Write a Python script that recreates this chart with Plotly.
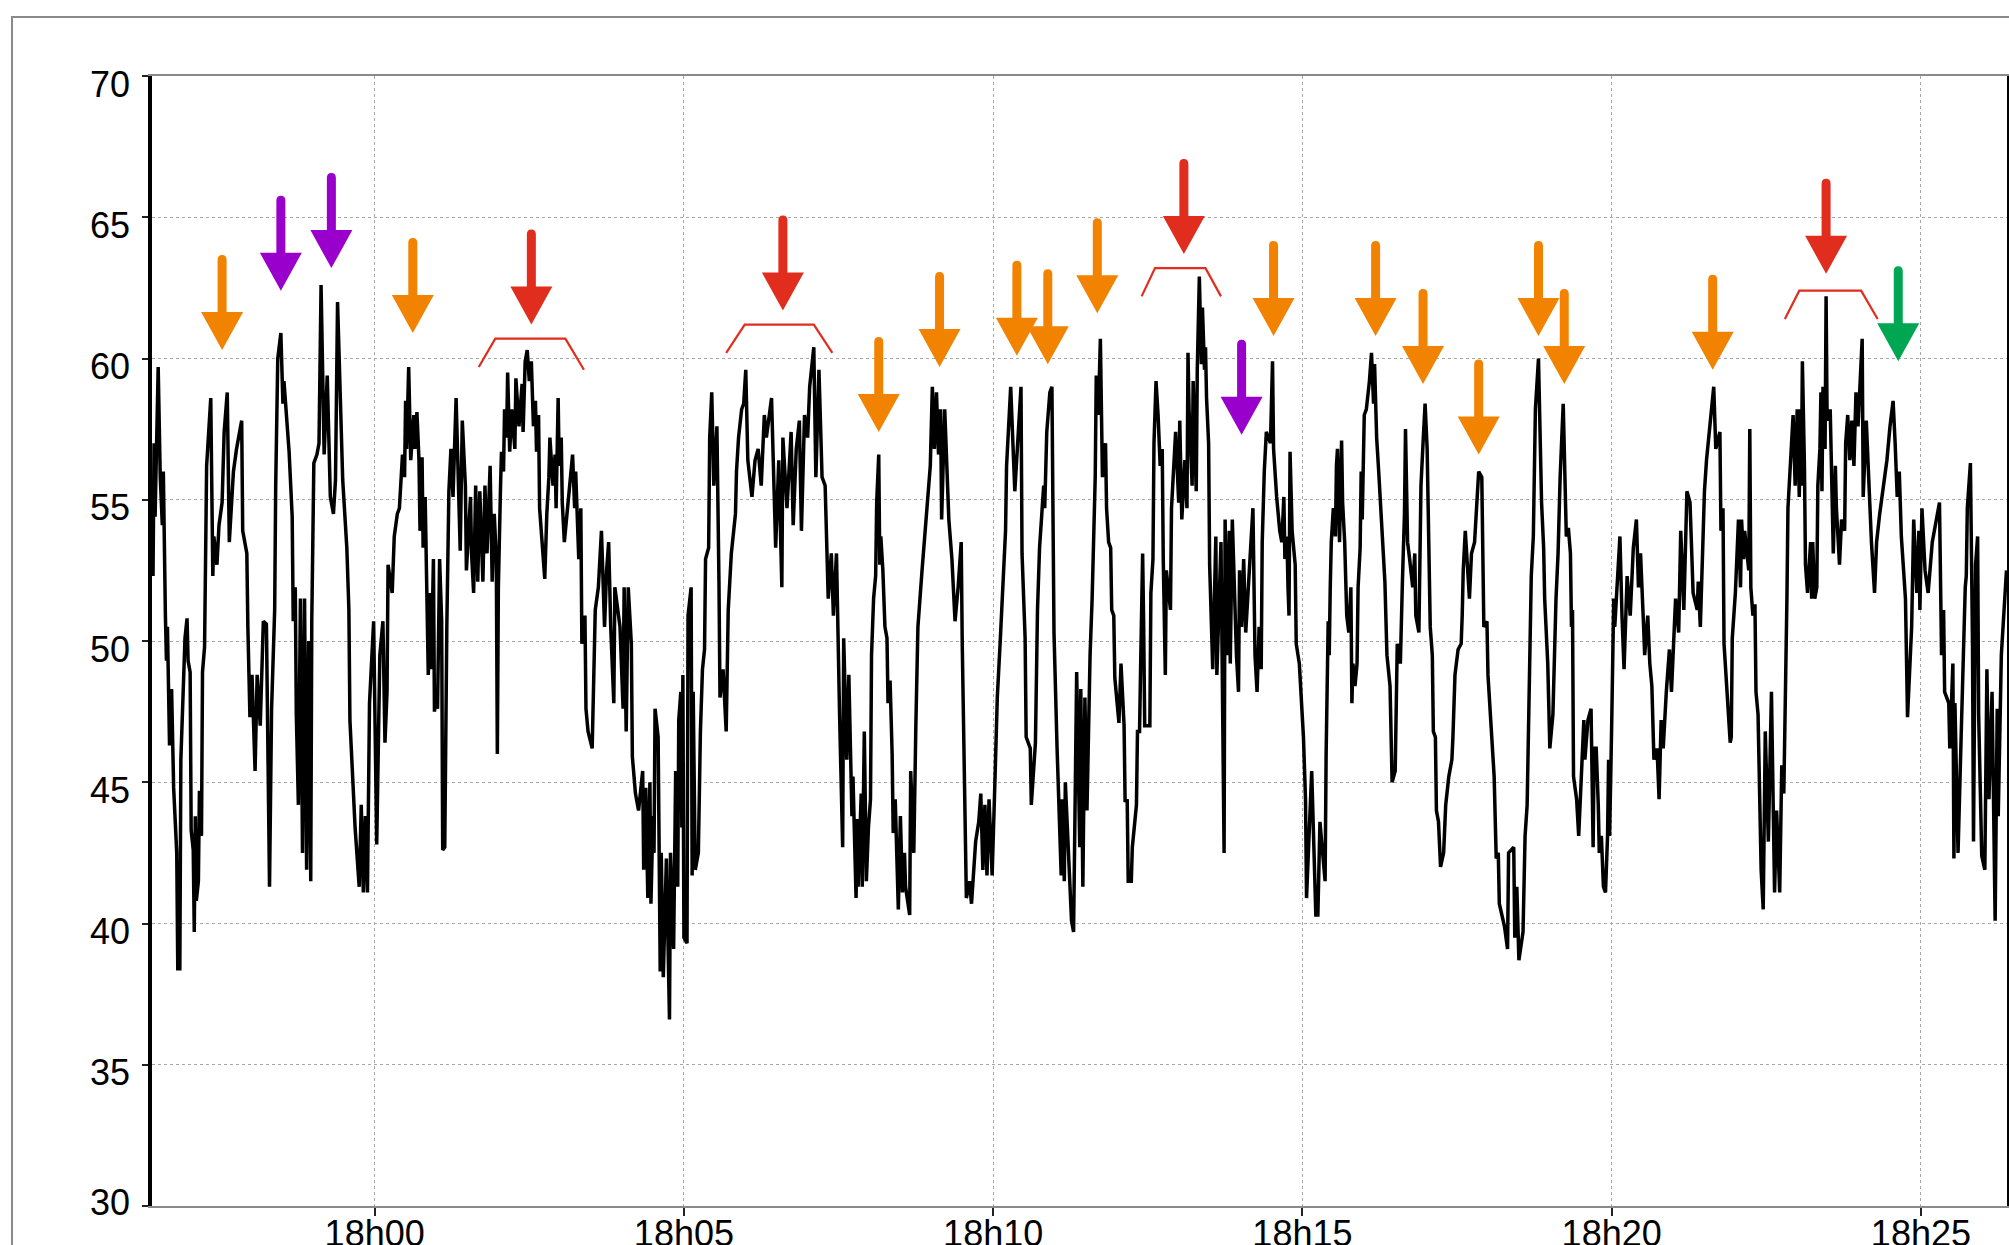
import pandas as pd
import plotly.graph_objects as go

BASE = pd.Timestamp("2024-01-01 18:00:00")

# readings: (seconds relative to 18h00, level)
seg_1756 = [(-215,52.3),(-214,57.0),(-213,54.4),(-212,56.8),(-210,59.7),(-208,55.8),(-206,54.1),(-205,56.0),(-204,52.2),(-203,50.9),(-202,49.3),(-201,50.5),(-199,46.3),(-197,48.3),(-195,44.8),(-192,42.5),(-191,38.4),(-189,38.4),(-188,45.8),(-187,47.0),(-186,48.4),(-184,50.1),(-182,50.8),(-181,49.3),(-179,48.9),(-178,43.3),(-176,42.6),(-175,39.7),(-174,43.8),(-173,40.8),(-171,41.5),(-170,44.7),(-168,43.1),(-167,48.9),(-165,49.8),(-164,53.2),(-163,56.2),(-159,58.6),(-157,52.3),(-156,53.7),(-153,52.7),(-151,54.1),(-148,54.9),(-146,57.4),(-143,58.8),(-141,53.5),(-137,56.0),(-134,56.8),(-129,57.8),(-128,53.9),(-124,53.1),(-123,50.5),(-121,47.3),(-119,48.8),(-116,45.4),(-114,48.8),(-111,47.0),(-108,50.7),(-105,50.6),(-102,41.3),(-100,47.6),(-97,51.1),(-96,55.5),(-94,60.0),(-91,60.9),(-89,58.4),(-88,59.2),(-83,56.7),(-80,54.4),(-79,50.7),(-77,51.9),(-76,47.4),(-74,44.2),(-72,51.5),(-70,42.5),(-68,51.5),(-66,41.9),(-64,50.0),(-62,41.5),(-61,50.7),(-60,54.0),(-59,56.3),(-56,56.6),(-54,57.0),(-52,62.6),(-50,59.2),(-49,56.6),(-46,59.4),(-43,55.1),(-40,54.5),(-38,55.7),(-36,62.0),(-34,59.0),(-31,55.7),(-27,53.3),(-25,51.1),(-24,47.2),(-19,43.4),(-15,41.3),(-13,44.2),(-11,41.1),(-9,43.8),(-7,41.1),(-5,47.8),(-1,50.7),(2,42.8),(5,49.5),(8,50.7)]

seg_1800 = [(10,46.4),(12,48.2),(13,52.7),(17,51.7),(19,53.7),(22,54.5),(24,54.7),(25,55.5),(27,56.6),(29,55.8),(30,58.5),(31,56.8),(33,59.7),(35,56.4),(38,58.0),(39,56.8),(41,58.1),(43,56.4),(44,53.9),(46,56.5),(47,53.3),(49,55.1),(50,52.3),(52,48.8),(54,51.7),(55,49.0),(57,52.9),(58,47.5),(60,48.2),(61,47.6),(63,52.9),(64,51.5),(65,50.7),(66,42.6),(68,42.7),(70,50.5),(72,55.3),(74,56.8),(76,55.1),(79,58.6),(81,55.3),(83,53.2),(85,57.8),(88,55.5),(89,52.5),(93,55.1),(94,53.1),(96,51.7),(98,55.5),(100,52.1),(102,55.3),(105,52.1),(107,55.5),(109,53.1),(112,56.2),(114,52.1),(116,54.5),(118,52.9),(119,46.0),(120,51.9),(122,55.3),(123,56.7),(125,56.0),(126,58.2),(128,57.2),(129,59.5),(131,56.7),(133,58.2),(136,56.8),(137,59.3),(140,57.6),(143,59.1),(144,57.4),(146,59.9),(148,60.3),(150,59.2),(152,59.9),(154,57.6),(156,58.5),(157,56.7),(159,58.0),(160,54.7),(162,53.7),(165,52.2),(167,54.5),(169,55.8),(170,57.2),(173,55.5),(175,56.6),(176,54.7),(178,58.6),(179,56.2),(181,57.2),(182,54.9),(184,53.5),(186,54.3),(190,55.8),(192,56.6),(194,54.7),(195,56.0),(198,52.9),(200,54.7),(201,49.9),(204,50.9),(205,47.6),(207,46.8),(211,46.2),(212,47.8),(214,51.1),(217,51.9),(220,53.9),(223,50.5),(225,52.5),(227,53.5),(229,50.5),(232,47.8),(233,51.9)]

seg_1804 = [(238,50.5),(241,47.6),(242,51.9),(244,46.8),(246,51.9),(249,49.9),(250,45.9),(253,44.6),(256,44.0),(260,45.4),(261,41.9),(263,44.8),(265,40.9),(267,45.0),(268,40.7),(270,43.8),(271,42.5),(272,47.6),(275,46.6),(276,41.3),(277,38.3),(278,42.5),(280,38.1),(283,42.3),(286,36.6),(287,42.5),(290,39.1),(292,45.4),(294,41.3),(295,47.2),(297,48.2),(298,43.4),(299,48.8),(300,39.5),(303,39.3),(304,50.9),(307,51.9),(308,41.7),(309,48.2),(311,41.9),(314,42.5),(316,46.8),(318,49.0),(320,49.7),(321,52.9),(324,53.3),(325,57.2),(327,58.8),(329,55.5),(332,57.6),(333,53.1),(334,52.1),(335,48.0),(338,49.0),(341,46.8),(342,48.6),(343,51.1),(346,53.1),(350,54.5),(351,56.0),(353,57.2),(356,58.2),(358,58.4),(360,59.6),(362,56.4),(366,55.1),(369,56.4),(372,56.8),(375,55.5),(378,58.0),(380,57.2),(385,58.6),(387,56.4),(389,53.3),(392,56.4),(395,51.9),(396,57.2),(400,54.7),(404,57.4),(406,54.1),(409,56.8),(412,57.8),(414,53.9),(417,58.0),(420,57.2),(422,59.0),(426,60.4),(428,55.8),(431,59.6),(434,55.8),(437,55.5),(440,51.5),(443,53.1),(445,50.9),(448,53.1),(450,50.1),(451,47.4),(454,42.7),(455,50.1),(458,45.8),(460,48.8),(463,43.8),(464,45.2)]

seg_1807 = [(467,40.9),(468,43.7),(469,41.3),(470,42.7),(472,44.6),(473,41.3),(475,46.8),(477,41.5),(479,43.4),(481,44.4),(482,49.5),(484,51.5),(486,52.3),(487,54.9),(489,56.6),(490,52.7),(491,53.7),(493,52.5),(495,50.5),(497,50.1),(498,47.8),(500,48.6),(502,46.0),(503,43.2),(505,44.4),(508,40.5),(510,43.8),(512,41.1),(514,42.5),(515,41.3),(519,40.3),(520,45.4),(523,42.5),(525,47.0),(527,50.5),(531,52.5),(534,53.9),(536,55.1),(539,56.2),(541,59.0),(543,56.8),(545,58.8),(547,56.6),(549,58.2),(550,54.3),(553,58.2),(555,56.4),(557,54.3),(560,52.9),(562,51.5),(563,50.7),(566,51.9),(569,53.5),(570,49.9),(572,45.0),(574,40.9),(577,41.5),(579,40.7),(583,42.9),(586,43.6),(588,44.6),(590,41.9),(592,44.2),(594,41.7),(596,44.4),(599,41.7),(602,45.4),(604,48.0),(607,50.1),(610,52.1),(612,53.9),(613,56.2),(617,59.0),(621,55.3),(627,59.0),(628,53.1),(631,50.1),(632,46.6),(636,46.2),(637,44.2),(641,46.4),(643,51.1),(645,53.3),(649,55.5),(650,54.7),(652,57.4),(655,58.8),(657,59.0),(658,54.7),(659,50.3),(662,46.2),(664,43.8),(666,41.7),(667,44.4),(669,41.5),(670,45.0),(676,40.1),(678,39.7),(681,48.9),(684,42.7),(685,48.3),(687,41.3),(689,48.0),(691,44.0)]

seg_1811 = [(694,49.5),(696,51.5),(698,55.3),(699,55.8),(700,59.4),(702,58.0),(704,60.7),(705,58.4),(706,55.8),(709,57.0),(710,54.7),(712,53.5),(714,53.3),(715,51.1),(717,50.9),(718,48.7),(720,47.8),(722,47.1),(724,49.2),(726,47.6),(727,47.0),(728,44.3),(730,44.4),(731,41.5),(734,41.5),(735,42.7),(739,44.2),(740,46.8),(742,46.8),(743,49.0),(745,53.1),(746,50.5),(747,47.0),(752,47.0),(753,51.7),(755,52.9),(756,57.0),(758,59.2),(760,58.0),(762,56.2),(764,56.8),(765,52.9),(767,48.8),(768,52.5),(771,51.5),(772,51.1),(773,54.7),(775,56.2),(777,57.4),(780,54.9),(781,57.8),(783,54.3),(786,56.4),(788,54.7),(789,60.2),(790,58.2),(793,55.5),(794,59.2),(797,55.3),(798,59.6),(800,62.9),(802,59.8),(803,61.8),(805,59.6),(806,60.4),(807,58.6),(809,57.0),(810,52.7),(813,49.0),(816,53.7),(817,48.8),(821,53.5),(822,49.0),(824,42.5),(825,54.3),(827,49.5),(829,53.9),(830,49.2),(832,54.3),(834,51.9),(836,49.5),(838,48.2),(839,52.5),(841,50.5),(843,52.9),(845,50.3),(848,52.0),(852,54.7),(854,49.5),(856,48.2),(858,50.5),(860,49.0),(861,53.5),(863,56.0),(865,57.4),(869,57.0),(871,59.9),(872,56.8),(875,55.1),(878,53.9),(880,53.5),(882,55.1),(883,52.9),(885,53.7),(886,51.9),(887,50.9),(888,56.7),(890,53.9),(893,52.7),(894,49.9),(897,49.2),(901,46.6),(903,44.4),(904,40.9),(909,45.4),(913,40.3),(915,40.3),(917,43.6)]

seg_1815 = [(922,41.5),(923,46.0),(925,50.7),(926,49.5),(927,51.9),(928,53.5),(930,54.7),(932,53.7),(933,56.2),(934,56.8),(936,53.5),(938,57.1),(939,54.9),(941,53.5),(943,50.9),(945,50.3),(947,51.9),(948,47.8),(949,49.2),(951,48.4),(953,49.2),(954,51.9),(956,53.3),(957,56.0),(958,54.3),(960,58.0),(962,58.2),(965,59.2),(967,60.2),(969,58.4),(970,59.8),(972,57.2),(974,56.0),(976,54.7),(978,53.3),(980,52.1),(982,49.5),(985,48.4),(987,45.0),(990,45.4),(992,49.9),(995,49.2),(997,52.1),(999,54.5),(1000,57.5),(1002,53.5),(1004,52.9),(1007,51.9),(1009,53.1),(1010,50.9),(1013,50.3),(1015,55.5),(1017,57.0),(1019,58.4),(1021,56.8),(1022,54.5),(1024,50.5),(1026,49.5),(1027,46.8),(1029,46.6),(1030,44.0),(1032,43.6),(1034,42.0),(1037,42.5),(1039,44.2),(1042,45.2),(1045,45.8),(1046,46.6),(1048,48.8),(1051,49.7),(1054,49.9),(1055,50.9),(1056,52.5),(1058,53.9),(1062,51.5),(1064,53.1),(1067,53.5),(1071,56.0),(1074,55.8),(1076,50.5),(1079,50.7),(1080,48.8),(1084,46.6),(1086,45.2),(1088,42.3),(1090,42.5),(1091,40.7),(1096,39.9),(1099,39.1),(1100,42.5),(1105,42.7),(1106,39.5),(1108,41.3),(1110,38.7),(1114,39.7),(1116,43.1),(1118,44.2),(1119,46.4),(1122,52.3),(1124,53.7),(1126,58.2),(1129,60.0),(1132,54.9),(1134,53.3),(1135,51.5),(1138,49.2),(1140,46.2),(1143,47.4),(1144,48.8),(1146,51.5),(1148,53.1),(1150,55.8),(1153,58.4)]

seg_1819 = [(1156,53.7),(1158,54.0),(1160,53.1),(1161,50.5),(1162,51.1),(1163,45.2),(1166,44.4),(1168,43.1),(1171,45.8),(1173,47.2),(1174,45.8),(1177,47.2),(1180,47.6),(1181,44.6),(1182,42.7),(1183,46.2),(1185,46.2),(1187,44.2),(1188,42.5),(1190,43.1),(1192,41.3),(1194,41.1),(1196,43.1),(1197,45.8),(1198,43.1),(1200,47.0),(1202,51.5),(1203,50.5),(1205,51.9),(1208,53.7),(1210,50.9),(1212,49.0),(1215,52.3),(1218,50.9),(1221,53.3),(1224,54.3),(1226,51.9),(1228,53.1),(1231,50.5),(1232,49.5),(1235,50.9),(1237,49.2),(1239,48.4),(1241,45.8),(1244,46.2),(1246,44.4),(1248,47.2),(1250,46.2),(1253,48.2),(1256,49.7),(1258,48.2),(1262,51.5),(1265,50.3),(1267,53.9),(1270,51.1),(1273,55.3),(1276,54.9),(1279,51.7),(1283,51.1),(1284,52.1),(1286,50.5),(1288,52.9),(1290,55.3),(1292,56.4),(1295,57.6),(1297,58.4),(1299,59.0),(1301,56.8),(1305,57.4),(1306,53.9),(1308,54.7),(1309,49.9),(1312,48.2),(1315,46.4),(1316,46.6),(1317,50.1),(1320,51.7),(1323,54.3),(1325,51.9),(1326,54.3),(1328,52.9),(1329,53.9),(1333,52.5),(1334,57.5),(1335,51.9),(1337,50.9),(1339,51.3),(1340,48.2),(1342,47.4),(1345,41.9),(1347,40.5),(1349,46.8),(1352,42.9),(1355,48.2),(1358,41.1),(1360,44.0),(1363,41.1),(1365,45.6),(1367,44.6),(1368,46.4),(1370,51.5),(1371,54.7),(1374,56.8),(1376,58.0),(1378,55.5),(1380,58.2),(1382,55.1)]

seg_1823 = [(1383,58.2),(1384,55.5),(1385,59.9),(1387,56.2),(1388,52.7),(1390,51.7),(1393,53.5),(1394,51.5),(1395,53.5),(1397,51.5),(1399,51.9),(1400,55.5),(1402,56.8),(1403,58.8),(1404,55.3),(1405,59.0),(1407,56.8),(1408,62.2),(1409,57.8),(1412,58.2),(1415,53.1),(1417,56.2),(1418,54.7),(1421,52.7),(1423,54.3),(1426,53.9),(1427,57.0),(1429,58.0),(1431,56.4),(1433,57.8),(1435,56.2),(1437,58.8),(1439,57.6),(1443,60.7),(1444,55.1),(1447,57.8),(1450,54.7),(1452,53.5),(1455,51.7),(1457,53.5),(1460,54.5),(1464,55.5),(1467,56.4),(1470,57.6),(1473,58.5),(1475,57.0),(1477,55.1),(1479,56.0),(1481,53.7),(1485,51.5),(1487,47.3),(1490,49.7),(1491,50.5),(1493,54.3),(1496,51.7),(1498,53.9),(1499,51.1),(1501,54.7),(1504,52.5),(1507,51.7),(1511,53.5),(1518,54.9),(1520,49.5),(1522,51.1),(1523,48.2),(1527,47.8),(1528,46.2),(1531,49.2),(1532,42.3),(1533,47.8),(1536,42.5),(1539,46.6),(1541,49.9),(1543,51.9),(1544,52.3),(1545,54.7),(1548,56.3),(1550,50.0),(1551,42.9),(1553,52.7),(1555,53.7),(1556,47.4),(1559,42.4),(1562,41.9),(1564,49.0),(1566,44.4),(1569,48.2),(1572,40.1),(1574,47.6),(1575,43.8),(1578,49.5),(1581,51.5),(1583,52.5)]

# arrow markers: time (s from 18h00), level at arrow tip, kind
arrow_t = [-148, -91, -42, 37, 152, 396, 489, 548, 623, 653, 701, 785, 841, 872, 971, 1017, 1071, 1129, 1154, 1298, 1408, 1478]
arrow_tip = [60.3, 62.4, 63.2, 60.9, 61.2, 61.7, 57.4, 59.7, 60.1, 59.8, 61.6, 63.7, 57.3, 60.8, 60.8, 59.1, 56.6, 60.8, 59.1, 59.6, 63.0, 59.9]
arrow_kind = ["o", "p", "p", "o", "r", "r", "o", "o", "o", "o", "o", "r", "p", "o", "o", "o", "o", "o", "o", "o", "r", "g"]
kind_color = {"o": "#F28300", "p": "#9A00CC", "r": "#E02D1E", "g": "#00A651"}

# red brackets: (time, level) corner points
bracket_1 = [(101, 59.7), (117, 60.7), (185, 60.7), (203, 59.6)]
bracket_2 = [(341, 60.2), (359, 61.2), (426, 61.2), (444, 60.2)]
bracket_3 = [(744, 62.2), (757, 63.2), (806, 63.2), (821, 62.2)]
bracket_4 = [(1368, 61.4), (1382, 62.4), (1442, 62.4), (1458, 61.4)]

y_ticks = [30, 35, 40, 45, 50, 55, 60, 65, 70]


def ts(s):
    return BASE + pd.Timedelta(seconds=s)


series = seg_1756 + seg_1800 + seg_1804 + seg_1807 + seg_1811 + seg_1815 + seg_1819 + seg_1823
t_sec = [p[0] for p in series]
level = [p[1] for p in series]

fig = go.Figure()
fig.add_trace(go.Scatter(x=[ts(s) for s in t_sec], y=level, mode="lines",
                         line=dict(color="black", width=3.5), hoverinfo="skip", showlegend=False))

for br in (bracket_1, bracket_2, bracket_3, bracket_4):
    fig.add_trace(go.Scatter(x=[ts(p[0]) for p in br], y=[p[1] for p in br], mode="lines",
                             line=dict(color="#E02D1E", width=2.2), hoverinfo="skip", showlegend=False))

ARROW = ("M0,0 L-21,38 L-4.5,38 L-4.5,90 Q-4.5,95 0,95 Q4.5,95 4.5,90 L4.5,38 L21,38 Z")
shapes = []
for t, v, k in zip(arrow_t, arrow_tip, arrow_kind):
    shapes.append(dict(type="path", xref="x", yref="y", xsizemode="pixel", ysizemode="pixel",
                       xanchor=str(ts(t)), yanchor=v, path=ARROW,
                       fillcolor=kind_color[k], line=dict(width=0), layer="above"))

# outer frame (cropped on right and bottom)
shapes.append(dict(type="rect", xref="paper", yref="paper",
                   x0=(12 - 152) / 1855, x1=(2030 - 152) / 1855,
                   y0=(1206 - 1270) / 1130, y1=(1206 - 17) / 1130,
                   line=dict(color="#8a8a8a", width=2), layer="below"))

font = dict(family="Liberation Sans, Arial, sans-serif", size=36, color="black")

# y tick labels drawn as text next to the axis (sit slightly below their grid lines)
annotations = []
for v in y_ticks:
    annotations.append(dict(xref="paper", yref="y", x=0, y=v, text=str(v), showarrow=False,
                            xanchor="right", yanchor="middle", xshift=-20,
                            yshift=4 if v == 30 else -8, font=font))

fig.update_layout(
    width=2009, height=1245, autosize=False,
    margin=dict(l=152, r=2, t=76, b=39, autoexpand=False),
    paper_bgcolor="white", plot_bgcolor="white",
    shapes=shapes, annotations=annotations, font=font, showlegend=False,
)
fig.update_xaxes(
    range=[ts(-216), ts(1583.5)], type="date",
    tick0=BASE, dtick=300000, tickformat="%Hh%M",
    showgrid=True, gridcolor="#a8a8a8", griddash="dot", gridwidth=1,
    showline=True, linecolor="#8a8a8a", linewidth=2, mirror=True,
    ticks="outside", ticklen=8, tickwidth=2, tickcolor="#222",
    tickfont=font, zeroline=False, ticklabelstandoff=-13,
)
fig.update_yaxes(
    range=[30, 70], tickvals=y_ticks, showticklabels=False,
    showgrid=True, gridcolor="#a8a8a8", griddash="dot", gridwidth=1,
    showline=True, linecolor="black", linewidth=3.5, mirror=True,
    ticks="outside", ticklen=6, tickwidth=2, tickcolor="#222",
    zeroline=False,
)

fig.write_html(
    "out.html",
    config={"displayModeBar": False},
    post_script="document.body.style.margin='0';document.body.style.overflow='hidden';",
)
